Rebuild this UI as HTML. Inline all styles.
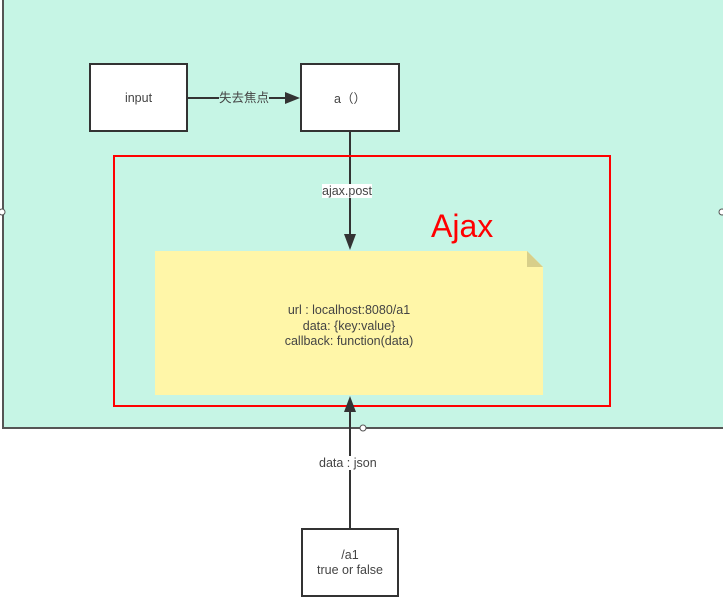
<!DOCTYPE html>
<html><head><meta charset="utf-8"><style>
body{margin:0;width:723px;height:598px;background:#fff;overflow:hidden;position:relative;font-family:"Liberation Sans","Noto Sans CJK SC",sans-serif;}
.a{position:absolute;box-sizing:border-box}
.box{background:#fff;border:2px solid #333;display:flex;align-items:center;justify-content:center;text-align:center;font-size:12.5px;color:#444}
.lbl{position:absolute;font-size:12.5px;color:#444;background:#fff;line-height:14px}
</style></head><body>
<div class="a" style="left:2px;top:-2px;width:730px;height:431px;background:#c6f5e5;border-left:2px solid #555;border-bottom:2px solid #555"></div>
<div class="a box" style="left:89px;top:63px;width:99px;height:69px">input</div>
<div class="a box" style="left:300px;top:63px;width:100px;height:69px">a（）</div>
<svg class="a" style="left:0;top:0" width="723" height="598">
<line x1="188" y1="98" x2="290" y2="98" stroke="#333" stroke-width="2"/>
<polygon points="300,98 285,92 285,104" fill="#333"/>
<line x1="350" y1="132" x2="350" y2="238" stroke="#333" stroke-width="2"/>
<polygon points="350,250 344,234 356,234" fill="#333"/>
<polygon points="155,251 527,251 543,267 543,395 155,395" fill="#fff6a8"/>
<polygon points="527,251 543,267 527,267" fill="#d8cf8a"/>
<rect x="114" y="156" width="496" height="250" fill="none" stroke="#f00" stroke-width="2"/>
<line x1="350" y1="528" x2="350" y2="408" stroke="#333" stroke-width="2"/>
<polygon points="350,396 344,412 356,412" fill="#333"/>
<circle cx="363" cy="428" r="3" fill="#fff" stroke="#555"/>
<circle cx="2" cy="212" r="3" fill="#fff" stroke="#555"/>
<circle cx="722" cy="212" r="3" fill="#fff" stroke="#555"/>
</svg>
<div class="lbl" style="left:219px;top:91px;background:#c6f5e5">失去焦点</div>
<div class="lbl" style="left:322px;top:184px;background:#fff">ajax.post</div>
<div class="a" style="left:431px;top:208px;font-size:32px;color:#f00">Ajax</div>
<div class="a" style="left:155px;top:303px;width:388px;text-align:center;font-size:12.5px;color:#444;line-height:15.5px">url : localhost:8080/a1<br>data: {key:value}<br>callback: function(data)</div>
<div class="lbl" style="left:319px;top:456px">data : json</div>
<div class="a box" style="left:301px;top:528px;width:98px;height:69px;flex-direction:column;line-height:15px">/a1<br>true or false</div>
</body></html>
